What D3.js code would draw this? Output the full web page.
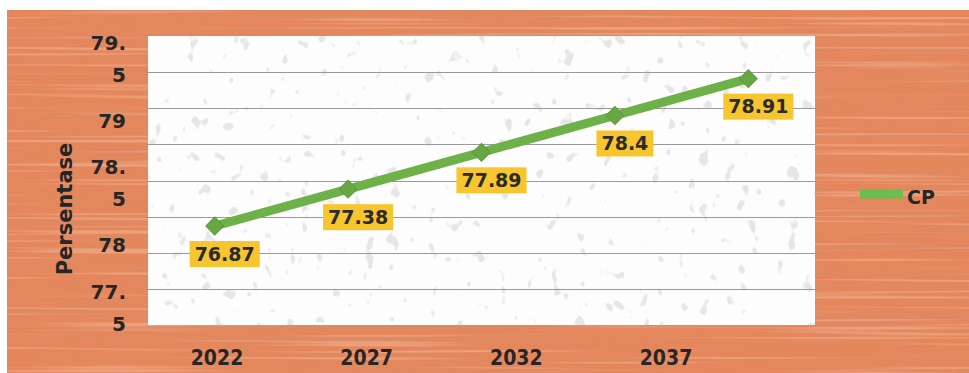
<!DOCTYPE html>
<html>
<head>
<meta charset="utf-8">
<script src="https://cdn.jsdelivr.net/npm/d3@7"></script>
<style>
  body { margin: 0; background: #fff; }
  svg { display: block; }
</style>
</head>
<body>
<div id="chart"></div>
<script>
// values
var categories = ["2022", "2027", "2032", "2037", "2042"];
var cpValues = [76.87, 77.38, 77.89, 78.4, 78.91];
var xTickLabels = ["2022", "2027", "2032", "2037"];
var yTickLabels = ["79.5", "79", "78.5", "78", "77.5"];
var seriesName = "CP";

function createChart(){
  var width = 969, height = 373;
  var plot = {left: 148, right: 815, top: 36, bottom: 325};

  var svg = d3.select("#chart").append("svg")
      .attr("width", width)
      .attr("height", height);

  var defs = svg.append("defs");

  // wood grain: long thin horizontal streaks
  var wood = defs.append("filter").attr("id", "wood")
      .attr("x", 0).attr("y", 0).attr("width", 1).attr("height", 1);
  wood.append("feTurbulence")
      .attr("type", "fractalNoise")
      .attr("baseFrequency", "0.0015 0.42")
      .attr("numOctaves", 1)
      .attr("seed", 7);
  wood.append("feColorMatrix")
      .attr("type", "matrix")
      .attr("values", "0 0 0 0 0.62  0 0 0 0 0.28  0 0 0 0 0.17  6 0 0 0 -3.3");

  var woodLight = defs.append("filter").attr("id", "woodLight")
      .attr("x", 0).attr("y", 0).attr("width", 1).attr("height", 1);
  woodLight.append("feTurbulence")
      .attr("type", "fractalNoise")
      .attr("baseFrequency", "0.004 0.3")
      .attr("numOctaves", 1)
      .attr("seed", 3);
  woodLight.append("feColorMatrix")
      .attr("type", "matrix")
      .attr("values", "0 0 0 0 0.98  0 0 0 0 0.74  0 0 0 0 0.58  -6 0 0 0 2.7");

  // faint grey specks on the plot paper
  var speck = defs.append("filter").attr("id", "speck")
      .attr("x", 0).attr("y", 0).attr("width", 1).attr("height", 1);
  speck.append("feTurbulence")
      .attr("type", "fractalNoise")
      .attr("baseFrequency", "0.08 0.06")
      .attr("numOctaves", 2)
      .attr("seed", 11);
  speck.append("feColorMatrix")
      .attr("type", "matrix")
      .attr("values", "0 0 0 0 0.5  0 0 0 0 0.5  0 0 0 0 0.55  14 0 0 0 -9.5");

  // orange background
  svg.append("rect")
      .attr("x", 7).attr("y", 10)
      .attr("width", width - 7).attr("height", height - 10)
      .attr("fill", "#e5875d");
  svg.append("rect")
      .attr("x", 7).attr("y", 10)
      .attr("width", width - 7).attr("height", height - 10)
      .attr("filter", "url(#wood)")
      .attr("opacity", 0.45);
  svg.append("rect")
      .attr("x", 7).attr("y", 10)
      .attr("width", width - 7).attr("height", height - 10)
      .attr("filter", "url(#woodLight)")
      .attr("opacity", 0.3);

  // plot area
  svg.append("rect")
      .attr("x", plot.left).attr("y", plot.top)
      .attr("width", plot.right - plot.left)
      .attr("height", plot.bottom - plot.top)
      .attr("fill", "#fdfdfd");
  svg.append("rect")
      .attr("x", plot.left).attr("y", plot.top)
      .attr("width", plot.right - plot.left)
      .attr("height", plot.bottom - plot.top)
      .attr("filter", "url(#speck)")
      .attr("opacity", 0.35);

  // scales
  var x = d3.scaleBand().domain(categories).range([plot.left, plot.right]);
  var y = d3.scaleLinear().domain([75.5, 79.5]).range([plot.bottom, plot.top]);
  var xLabel = d3.scaleLinear().domain([+xTickLabels[0], +xTickLabels[xTickLabels.length - 1]]).range([217, 666]);
  var yLabel = d3.scaleLinear().domain([77.5, 79.5]).range([307.5, 58.5]);

  // gridlines
  svg.append("g")
    .selectAll("line")
    .data(y.ticks(8).filter(function(d) { return d > 75.5 && d < 79.5; }))
    .enter().append("line")
      .attr("x1", plot.left).attr("x2", plot.right)
      .attr("y1", function(d) { return Math.round(y(d)) + 0.5; })
      .attr("y2", function(d) { return Math.round(y(d)) + 0.5; })
      .attr("stroke", "#9a9a9a")
      .attr("stroke-width", 1);

  var font = "'DejaVu Sans', sans-serif";

  // y tick labels (wrapped like the original)
  var yt = svg.append("g")
    .selectAll("text")
    .data(yTickLabels)
    .enter().append("text")
      .attr("text-anchor", "end")
      .attr("font-family", font)
      .attr("font-weight", "bold")
      .attr("font-size", 20)
      .attr("fill", "#262626");
  yt.each(function(d) {
    var t = d3.select(this);
    var cy = yLabel(+d);
    var parts = d.split(".");
    if (parts.length > 1) {
      t.append("tspan").attr("x", 126).attr("y", cy - 16).attr("dy", "0.36em").text(parts[0] + ".");
      t.append("tspan").attr("x", 126).attr("y", cy + 16).attr("dy", "0.36em").text(parts[1]);
    } else {
      t.append("tspan").attr("x", 126).attr("y", cy).attr("dy", "0.36em").text(d);
    }
  });

  // y title
  svg.append("text")
      .attr("transform", "translate(64,209) rotate(-90)")
      .attr("text-anchor", "middle")
      .attr("dy", "0.36em")
      .attr("font-family", font)
      .attr("font-weight", "bold")
      .attr("font-size", 21)
      .attr("fill", "#262626")
      .text("Persentase");

  // x tick labels
  svg.append("g")
    .selectAll("text")
    .data(xTickLabels)
    .enter().append("text")
      .attr("x", function(d) { return xLabel(+d); })
      .attr("y", 357)
      .attr("dy", "0.36em")
      .attr("text-anchor", "middle")
      .attr("font-family", "'DejaVu Sans Condensed', 'DejaVu Sans', sans-serif")
      .attr("font-weight", "bold")
      .attr("font-size", 21)
      .attr("fill", "#262626")
      .text(function(d) { return d; });

  var points = categories.map(function(c, i) {
    return {cat: c, value: cpValues[i]};
  });

  var line = d3.line()
      .x(function(d) { return x(d.cat) + x.bandwidth() / 2; })
      .y(function(d) { return y(d.value); });

  svg.append("path")
      .datum(points)
      .attr("fill", "none")
      .attr("stroke", "#6fb149")
      .attr("stroke-width", 9)
      .attr("stroke-linejoin", "round")
      .attr("d", line);

  svg.append("g")
    .selectAll("path")
    .data(points)
    .enter().append("path")
      .attr("d", d3.symbol().type(d3.symbolSquare).size(160))
      .attr("transform", function(d) {
        return "translate(" + (x(d.cat) + x.bandwidth() / 2) + "," + y(d.value) + ") rotate(45)";
      })
      .attr("fill", "#67a844")
      .attr("stroke", "#5c9a3e")
      .attr("stroke-width", 1);

  // data labels on yellow boxes
  var labels = svg.append("g")
    .selectAll("g")
    .data(points)
    .enter().append("g")
      .attr("transform", function(d) {
        return "translate(" + (x(d.cat) + x.bandwidth() / 2 + 10) + "," + (y(d.value) + 28) + ")";
      });
  labels.append("rect").attr("fill", "#f7c62f");
  labels.append("text")
      .attr("text-anchor", "middle")
      .attr("dy", "0.36em")
      .attr("font-family", font)
      .attr("font-weight", "bold")
      .attr("font-size", 19)
      .attr("fill", "#2b2b2b")
      .text(function(d) { return d.value; });
  labels.each(function() {
    var g = d3.select(this);
    var bb = g.select("text").node().getBBox();
    g.select("rect")
        .attr("x", bb.x - 5).attr("y", -13)
        .attr("width", bb.width + 10).attr("height", 26);
  });

  // legend
  svg.append("line")
      .attr("x1", 860).attr("x2", 903)
      .attr("y1", 194).attr("y2", 194)
      .attr("stroke", "#6cbd4e")
      .attr("stroke-width", 9);
  svg.append("text")
      .attr("x", 907).attr("y", 197)
      .attr("dy", "0.36em")
      .attr("font-family", font)
      .attr("font-weight", "bold")
      .attr("font-size", 19)
      .attr("fill", "#262626")
      .text(seriesName);
}

createChart();
</script>
</body>
</html>
